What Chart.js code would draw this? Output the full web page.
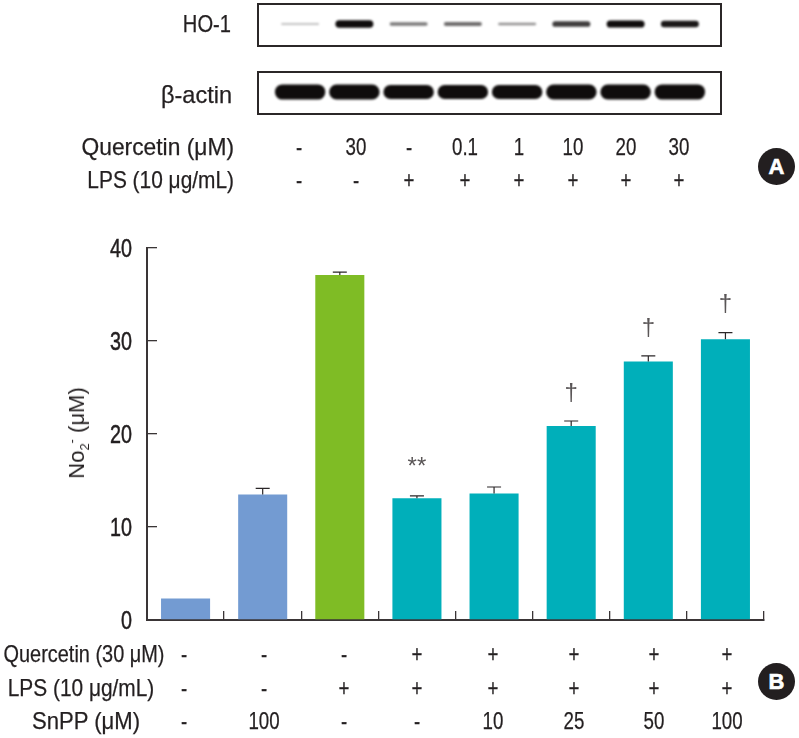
<!DOCTYPE html>
<html>
<head>
<meta charset="utf-8">
<script src="https://cdn.jsdelivr.net/npm/chart.js@4"></script>
<style>
  html, body { margin: 0; padding: 0; background: #fff; }
  #page { position: relative; width: 799px; height: 738px; overflow: hidden; color: #231f20;
          font-family: "Liberation Sans", sans-serif; font-size: 24px; -webkit-text-stroke: 0.25px #231f20; }
  #mainChart { position: absolute; left: 0; top: 0; }
  .frame { position: absolute; left: 257px; width: 461px; height: 40px; border: 2px solid #2b2728; }
  .blot { position: absolute; left: 273px; }
  .t { position: absolute; white-space: nowrap; transform-origin: 50% 50%; }
  .r { position: absolute; white-space: nowrap; transform-origin: 100% 50%; }
  .badge { position: absolute; width: 37px; height: 37px; border-radius: 50%; background: #231f20; color: #fff;
           font: bold 22px "Liberation Sans", sans-serif; line-height: 37px; text-align: center;
           -webkit-text-stroke: 0.6px #fff; }
  #yTitle { position: absolute; left: 77px; top: 433px; transform: translate(-50%, -50%) rotate(-90deg);
            font: 22px "Liberation Sans", sans-serif; white-space: nowrap; -webkit-text-stroke: 0; }
  #yTitle sub, #yTitle sup { font-size: 13px; line-height: 0; }
</style>
</head>
<body>
<div id="page">
  <canvas id="mainChart" width="799" height="738"></canvas>

  <div class="frame" style="top:3px"></div>
  <div class="frame" style="top:71px"></div>
  <canvas class="blot" id="hoBlot" width="434" height="38" style="top:5px"></canvas>
  <canvas class="blot" id="actinBlot" width="434" height="38" style="top:73px"></canvas>

  <div id="labels"></div>
  <div id="yTitle">No<sub>2</sub><sup>-</sup> (μM)</div>
  <div class="badge" style="left:758px;top:148px">A</div>
  <div class="badge" style="left:758px;top:663px">B</div>
</div>

<script>
// panel B data
const categories = ["1", "2", "3", "4", "5", "6", "7", "8"];
const no2Values = [2.3, 13.5, 37.1, 13.1, 13.6, 20.85, 27.8, 30.2];
const no2Errors = [0, 0.65, 0.3, 0.25, 0.7, 0.55, 0.6, 0.7];
const marks = ["", "", "", "**", "", "†", "†", "†"];
const yTicks = [0, 10, 20, 30, 40];

const BLUE = "#739bd2";
const GREEN = "#7fbc25";
const TEAL = "#00afba";
const barColors = [BLUE, BLUE, GREEN, TEAL, TEAL, TEAL, TEAL, TEAL];

// panel A data, band strength read from the blots
const lanes = ["1", "2", "3", "4", "5", "6", "7", "8"];
const hoBand = [0.05, 0.2, 0.09, 0.1, 0.07, 0.15, 0.19, 0.17];
const hoDark = [0.25, 1, 0.55, 0.6, 0.45, 0.8, 1, 0.95];
const actinBand = [0.4, 0.39, 0.37, 0.37, 0.37, 0.39, 0.39, 0.4];

// label rows
const quercetinA = ["-", "30", "-", "0.1", "1", "10", "20", "30"];
const lpsA = ["-", "-", "+", "+", "+", "+", "+", "+"];
const quercetinB = ["-", "-", "-", "+", "+", "+", "+", "+"];
const lpsB = ["-", "-", "+", "+", "+", "+", "+", "+"];
const snpp = ["-", "100", "-", "-", "10", "25", "50", "100"];

const AXIS = "#3a3536";

// ======================
// BAR CHART
// ======================

const errorBars = {
  id: "errorBars",
  afterDatasetsDraw(chart) {
    const { ctx, scales: { x, y } } = chart;
    ctx.save();
    ctx.strokeStyle = "#2b2728";
    ctx.lineWidth = 1.2;
    no2Values.forEach((v, i) => {
      const px = x.getPixelForValue(i);
      const top = y.getPixelForValue(v + no2Errors[i]);
      if (no2Errors[i] > 0) {
        ctx.beginPath();
        ctx.moveTo(px, y.getPixelForValue(v));
        ctx.lineTo(px, top);
        ctx.moveTo(px - 7, top);
        ctx.lineTo(px + 7, top);
        ctx.stroke();
      }
      if (marks[i]) {
        ctx.fillStyle = "#5a5657";
        ctx.font = '24px "Liberation Sans", sans-serif';
        ctx.textAlign = "center";
        ctx.textBaseline = "middle";
        ctx.fillText(marks[i], px, top - 28);
      }
    });
    ctx.restore();
  }
};

// the font in the figure is condensed, so tick numbers get squeezed here
const narrowTicks = {
  id: "narrowTicks",
  afterDraw(chart) {
    const { ctx, scales: { y } } = chart;
    ctx.save();
    ctx.fillStyle = "#231f20";
    ctx.strokeStyle = "#231f20";
    ctx.lineWidth = 0.5;
    ctx.font = '26px "Liberation Sans", sans-serif';
    ctx.textAlign = "right";
    ctx.textBaseline = "middle";
    yTicks.forEach(v => {
      ctx.save();
      ctx.translate(132, y.getPixelForValue(v) + 2);
      ctx.scale(0.76, 1);
      ctx.fillText(String(v), 0, 0);
      ctx.strokeText(String(v), 0, 0);
      ctx.restore();
    });
    ctx.restore();
  }
};

new Chart(document.getElementById("mainChart"), {
  type: "bar",
  data: {
    labels: categories,
    datasets: [{
      data: no2Values,
      backgroundColor: barColors,
      barPercentage: 0.636,
      categoryPercentage: 1
    }]
  },
  plugins: [errorBars, narrowTicks],
  options: {
    responsive: false,
    animation: false,
    layout: { padding: { left: 0, right: 35, top: 248, bottom: 118 } },
    plugins: { legend: { display: false }, tooltip: { enabled: false } },
    scales: {
      x: {
        grid: { drawOnChartArea: false, tickLength: -9, color: AXIS, lineWidth: 1.3 },
        border: { color: AXIS, width: 2 },
        ticks: { display: false },
        afterFit(s) { s.height = 0; }
      },
      y: {
        min: 0,
        max: 40,
        afterBuildTicks(s) { s.ticks = yTicks.map(v => ({ value: v })); },
        grid: { drawOnChartArea: false, tickLength: -10, color: AXIS, lineWidth: 1.3 },
        border: { color: AXIS, width: 2 },
        ticks: { display: false },
        afterFit(s) { s.width = 147; }
      }
    }
  }
});

// ======================
// BLOTS
// ======================

function softEdges(px) {
  return {
    id: "softEdges",
    beforeDatasetsDraw(chart) {
      chart.ctx.save();
      chart.ctx.filter = `blur(${px}px)`;
    },
    afterDatasetsDraw(chart) {
      chart.ctx.restore();
    }
  };
}

function renderBlot(id, bands, dark, widthPart, radius, blur) {
  new Chart(document.getElementById(id), {
    type: "bar",
    data: {
      labels: lanes,
      datasets: [{
        data: bands.map(b => [-b, b]),
        backgroundColor: dark.map(d => `rgba(15,12,12,${d})`),
        barPercentage: widthPart,
        categoryPercentage: 1,
        borderSkipped: false,
        borderRadius: radius
      }]
    },
    plugins: [softEdges(blur)],
    options: {
      responsive: false,
      animation: false,
      plugins: { legend: { display: false }, tooltip: { enabled: false } },
      scales: {
        x: { display: false },
        y: { display: false, min: -1, max: 1 }
      }
    }
  });
}

renderBlot("hoBlot", hoBand, hoDark, 0.7, 4, 1);
renderBlot("actinBlot", actinBand, actinBand.map(() => 1), 0.93, 7.5, 1);

// ======================
// LABELS
// ======================

const labelsBox = document.getElementById("labels");

function addText(cls, left, top, text, squeeze) {
  const el = document.createElement("div");
  el.className = cls;
  el.style.left = left + "px";
  el.style.top = top + "px";
  const shift = cls === "r" ? "-100%" : "-50%";
  el.style.transform = `translate(${shift}, -50%) scaleX(${squeeze})`;
  el.textContent = text;
  labelsBox.appendChild(el);
}

function addRow(xs, top, values) {
  values.forEach((v, i) => addText("t", xs[i], top, v, 0.78));
}

const rowXA = [299, 356, 409, 465, 519, 573, 626, 679];
const rowXB = [184, 264, 344, 417, 493, 574, 654, 727];

addText("r", 231, 24, "HO-1", 0.84);
addText("r", 232, 95, "β-actin", 0.98);
addText("r", 234, 147, "Quercetin (μM)", 0.95);
addText("r", 234, 180, "LPS (10 μg/mL)", 0.87);
addRow(rowXA, 147, quercetinA);
addRow(rowXA, 180, lpsA);

addText("t", 84, 654, "Quercetin (30 μM)", 0.83);
addText("t", 81, 688, "LPS (10 μg/mL)", 0.87);
addText("t", 86, 721, "SnPP (μM)", 0.92);
addRow(rowXB, 654, quercetinB);
addRow(rowXB, 688, lpsB);
addRow(rowXB, 721, snpp);
</script>
</body>
</html>
